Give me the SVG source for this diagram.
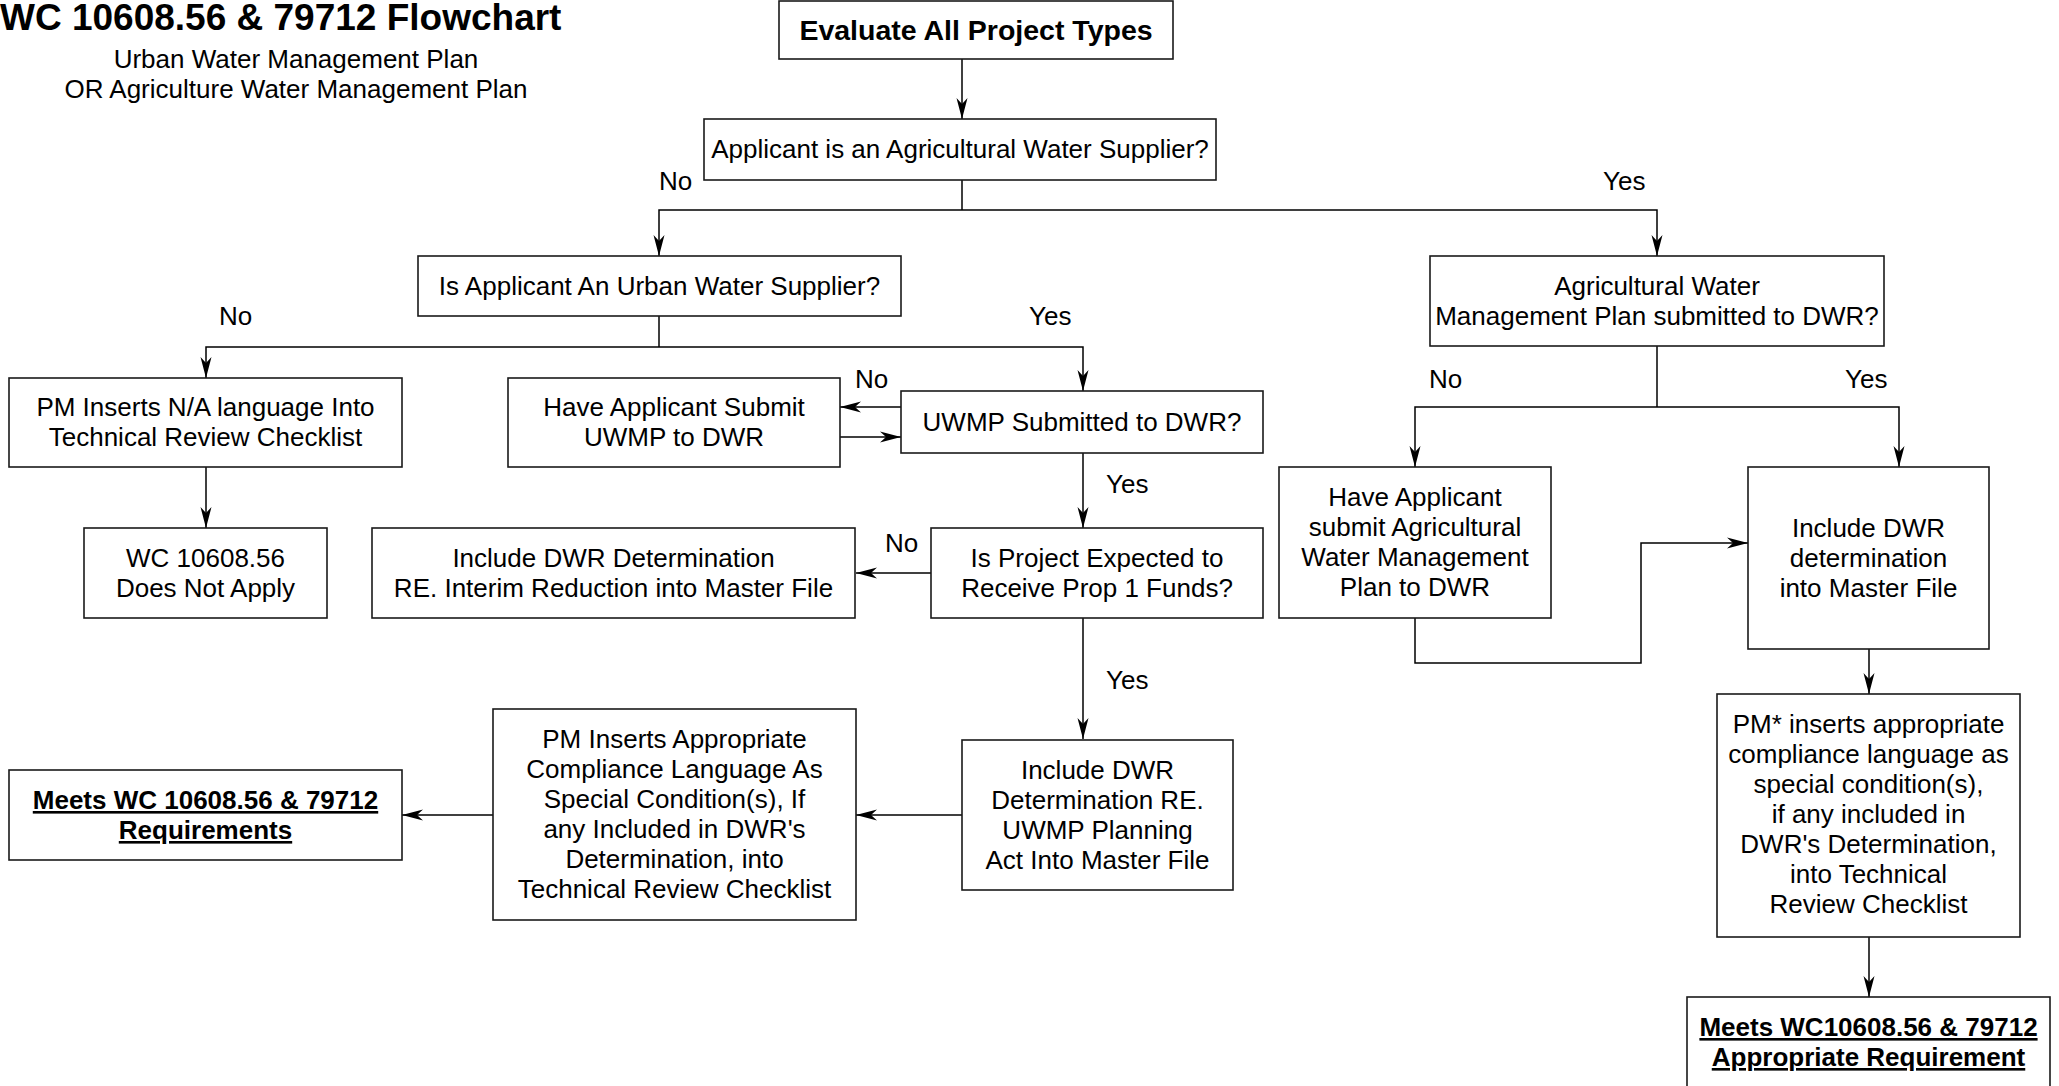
<svg xmlns="http://www.w3.org/2000/svg" width="2059" height="1086" viewBox="0 0 2059 1086">
<style>
.box{fill:#fff;stroke:#1a1a1a;stroke-width:1.6}
.t{font-family:"Liberation Sans",Arial,sans-serif;font-size:26px;text-anchor:middle;fill:#000}
.b{font-weight:bold}
.u{text-decoration:underline}
.e{fill:none;stroke:#000;stroke-width:1.5}
.lbl{font-family:"Liberation Sans",Arial,sans-serif;font-size:26px;fill:#000}
</style>
<defs>
<marker id="ah" markerUnits="userSpaceOnUse" viewBox="-22 -6 23 12" refX="0" refY="0" markerWidth="23" markerHeight="12" orient="auto">
<path d="M0,0 L-21,-5.5 L-15,0 L-21,5.5 Z" fill="#000"/>
</marker>
</defs>
<rect width="2059" height="1086" fill="#fff"/>

<g id="title">
<text x="0" y="30" class="lbl b" style="font-size:37px">WC 10608.56 &amp; 79712 Flowchart</text>
<text x="296" y="68" class="t">Urban Water Management Plan</text>
<text x="296" y="98" class="t">OR Agriculture Water Management Plan</text>
</g>

<g id="connectors">
<path class="e" d="M962,59 V119" marker-end="url(#ah)"/>
<path class="e" d="M962,180 V210"/>
<path class="e" d="M962,210 H659 V256" marker-end="url(#ah)"/>
<path class="e" d="M962,210 H1657 V256" marker-end="url(#ah)"/>
<path class="e" d="M659,316 V347"/>
<path class="e" d="M659,347 H206 V378" marker-end="url(#ah)"/>
<path class="e" d="M659,347 H1083 V391" marker-end="url(#ah)"/>
<path class="e" d="M206,467 V528" marker-end="url(#ah)"/>
<path class="e" d="M901,407 H840" marker-end="url(#ah)"/>
<path class="e" d="M840,437 H901" marker-end="url(#ah)"/>
<path class="e" d="M1083,453 V528" marker-end="url(#ah)"/>
<path class="e" d="M931,573 H856" marker-end="url(#ah)"/>
<path class="e" d="M1083,618 V739" marker-end="url(#ah)"/>
<path class="e" d="M962,815 H856" marker-end="url(#ah)"/>
<path class="e" d="M493,815 H402" marker-end="url(#ah)"/>
<path class="e" d="M1657,346 V407"/>
<path class="e" d="M1657,407 H1415 V467" marker-end="url(#ah)"/>
<path class="e" d="M1657,407 H1899 V467" marker-end="url(#ah)"/>
<path class="e" d="M1415,618 V663 H1641 V543 H1748" marker-end="url(#ah)"/>
<path class="e" d="M1869,649 V694" marker-end="url(#ah)"/>
<path class="e" d="M1869,937 V997" marker-end="url(#ah)"/>
<text class="lbl" x="659" y="190">No</text>
<text class="lbl" x="1603" y="190">Yes</text>
<text class="lbl" x="219" y="325">No</text>
<text class="lbl" x="1029" y="325">Yes</text>
<text class="lbl" x="855" y="388">No</text>
<text class="lbl" x="1106" y="493">Yes</text>
<text class="lbl" x="885" y="552">No</text>
<text class="lbl" x="1106" y="689">Yes</text>
<text class="lbl" x="1429" y="388">No</text>
<text class="lbl" x="1845" y="388">Yes</text>
</g>

<g id="n-evaluate">
<rect class="box" x="779" y="1" width="394" height="58"/>
<text class="t b" x="976" y="40" style="font-size:28.5px">Evaluate All Project Types</text>
</g>
<g id="n-ag-supplier">
<rect class="box" x="704" y="119" width="512" height="61"/>
<text class="t" x="960" y="158">Applicant is an Agricultural Water Supplier?</text>
</g>
<g id="n-urban-supplier">
<rect class="box" x="418" y="256" width="483" height="60"/>
<text class="t" x="659.5" y="295">Is Applicant An Urban Water Supplier?</text>
</g>
<g id="n-pm-na">
<rect class="box" x="9" y="378" width="393" height="89"/>
<text class="t" x="205.5" y="416">PM Inserts N/A language Into</text>
<text class="t" x="205.5" y="446">Technical Review Checklist</text>
</g>
<g id="n-not-apply">
<rect class="box" x="84" y="528" width="243" height="90"/>
<text class="t" x="205.5" y="567">WC 10608.56</text>
<text class="t" x="205.5" y="597">Does Not Apply</text>
</g>
<g id="n-submit-uwmp">
<rect class="box" x="508" y="378" width="332" height="89"/>
<text class="t" x="674" y="416">Have Applicant Submit</text>
<text class="t" x="674" y="446">UWMP to DWR</text>
</g>
<g id="n-uwmp-submitted">
<rect class="box" x="901" y="391" width="362" height="62"/>
<text class="t" x="1082" y="431">UWMP Submitted to DWR?</text>
</g>
<g id="n-prop1">
<rect class="box" x="931" y="528" width="332" height="90"/>
<text class="t" x="1097" y="567">Is Project Expected to</text>
<text class="t" x="1097" y="597">Receive Prop 1 Funds?</text>
</g>
<g id="n-interim">
<rect class="box" x="372" y="528" width="483" height="90"/>
<text class="t" x="613.5" y="567">Include DWR Determination</text>
<text class="t" x="613.5" y="597">RE. Interim Reduction into Master File</text>
</g>
<g id="n-uwmp-act">
<rect class="box" x="962" y="740" width="271" height="150"/>
<text class="t" x="1097.5" y="779">Include DWR</text>
<text class="t" x="1097.5" y="809">Determination RE.</text>
<text class="t" x="1097.5" y="839">UWMP Planning</text>
<text class="t" x="1097.5" y="869">Act Into Master File</text>
</g>
<g id="n-pm-compliance">
<rect class="box" x="493" y="709" width="363" height="211"/>
<text class="t" x="674.5" y="748">PM Inserts Appropriate</text>
<text class="t" x="674.5" y="778">Compliance Language As</text>
<text class="t" x="674.5" y="808">Special Condition(s), If</text>
<text class="t" x="674.5" y="838">any Included in DWR's</text>
<text class="t" x="674.5" y="868">Determination, into</text>
<text class="t" x="674.5" y="898">Technical Review Checklist</text>
</g>
<g id="n-meets-left">
<rect class="box" x="9" y="770" width="393" height="90"/>
<text class="t b u" x="205.5" y="809">Meets WC 10608.56 &amp; 79712</text>
<text class="t b u" x="205.5" y="839">Requirements</text>
</g>
<g id="n-agwmp-submitted">
<rect class="box" x="1430" y="256" width="454" height="90"/>
<text class="t" x="1657" y="295">Agricultural Water</text>
<text class="t" x="1657" y="325">Management Plan submitted to DWR?</text>
</g>
<g id="n-submit-agwmp">
<rect class="box" x="1279" y="467" width="272" height="151"/>
<text class="t" x="1415" y="506">Have Applicant</text>
<text class="t" x="1415" y="536">submit Agricultural</text>
<text class="t" x="1415" y="566">Water Management</text>
<text class="t" x="1415" y="596">Plan to DWR</text>
</g>
<g id="n-include-dwr">
<rect class="box" x="1748" y="467" width="241" height="182"/>
<text class="t" x="1868.5" y="537">Include DWR</text>
<text class="t" x="1868.5" y="567">determination</text>
<text class="t" x="1868.5" y="597">into Master File</text>
</g>
<g id="n-pm-star">
<rect class="box" x="1717" y="694" width="303" height="243"/>
<text class="t" x="1868.5" y="733">PM* inserts appropriate</text>
<text class="t" x="1868.5" y="763">compliance language as</text>
<text class="t" x="1868.5" y="793">special condition(s),</text>
<text class="t" x="1868.5" y="823">if any included in</text>
<text class="t" x="1868.5" y="853">DWR's Determination,</text>
<text class="t" x="1868.5" y="883">into Technical</text>
<text class="t" x="1868.5" y="913">Review Checklist</text>
</g>
<g id="n-meets-right">
<rect class="box" x="1687" y="997" width="363" height="120"/>
<text class="t b u" x="1868.5" y="1036">Meets WC10608.56 &amp; 79712</text>
<text class="t b u" x="1868.5" y="1066">Appropriate Requirement</text>
</g>
</svg>
